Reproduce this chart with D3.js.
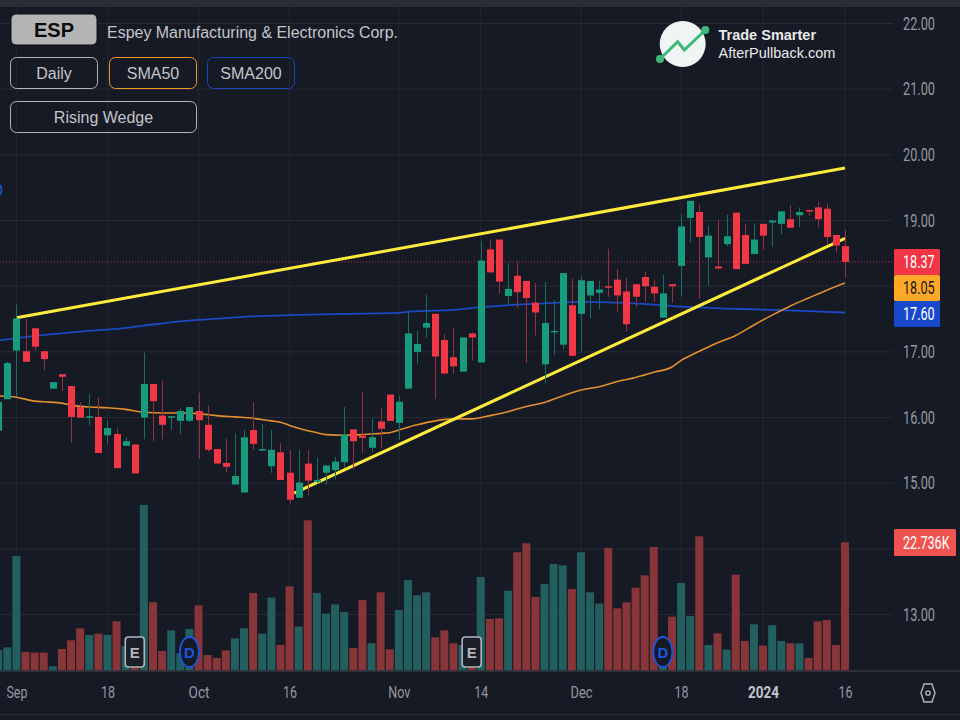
<!DOCTYPE html>
<html>
<head>
<meta charset="utf-8">
<title>ESP</title>
<script src="https://cdn.jsdelivr.net/npm/d3@7"></script>
<style>
	html, body { margin: 0; padding: 0; background: #161a25; }
	svg { display: block; }
</style>
</head>
<body>
<div id="chart"></div>
<script>
// trading day number of every candle, Sep 1 2023 is day 0
let firstDay = -2;

let opens = [
	15.80, 16.28,
	17.02, 17.01, 17.36, 17.01, 16.44, 16.66, 16.48, 16.16, 16.00, 16.01,
	15.73, 15.75, 15.57, 15.59, 16.00, 16.51, 16.03, 16.00, 15.95, 15.95,
	16.10, 15.89, 15.52, 15.31, 14.98, 14.86, 15.81, 15.50, 15.26, 15.47,
	15.16, 14.78, 15.30, 15.02, 15.16, 15.20, 15.32, 15.82, 15.72, 15.54,
	15.94, 16.35, 15.92, 16.44, 17.00, 17.37, 17.58, 17.18, 16.92, 16.70,
	17.28, 16.84, 18.56, 18.71, 17.85, 18.16, 18.08, 17.75, 16.81, 17.30,
	17.11, 17.71, 17.58, 17.86, 17.90, 18.00, 18.10, 17.92, 18.03, 18.14,
	17.99, 17.52, 18.03, 18.31, 19.04, 19.13, 18.44, 18.30, 18.64, 19.12,
	18.78, 18.49, 18.95, 18.97, 18.95, 19.02, 19.08, 19.16, 19.20, 19.18,
	18.78, 18.61
];
let highs = [
	16.24, 16.85,
	17.72, 17.50, 17.36, 17.01, 16.54, 16.66, 16.48, 16.23, 16.36, 16.31,
	15.96, 15.84, 15.70, 15.59, 16.99, 16.51, 16.56, 16.02, 16.14, 16.16,
	16.38, 16.18, 15.52, 15.68, 15.76, 15.81, 16.23, 15.90, 15.81, 15.61,
	15.50, 15.51, 15.50, 15.39, 15.27, 15.40, 16.16, 15.82, 16.39, 15.99,
	16.15, 16.35, 16.33, 17.61, 17.32, 17.87, 17.58, 17.27, 17.37, 17.22,
	17.30, 18.69, 18.71, 18.71, 18.35, 18.38, 18.08, 18.05, 18.06, 17.79,
	18.20, 18.12, 18.15, 18.08, 18.08, 18.57, 18.26, 18.13, 18.03, 18.22,
	18.09, 18.17, 18.03, 19.09, 19.30, 19.24, 18.92, 19.01, 19.09, 19.12,
	18.95, 18.96, 18.95, 19.00, 19.14, 19.23, 19.20, 19.16, 19.28, 19.26,
	18.78, 18.86
];
let lows = [
	15.80, 16.28,
	16.33, 16.85, 17.01, 16.72, 16.44, 16.40, 15.62, 16.00, 15.88, 15.46,
	15.60, 15.23, 15.57, 15.15, 15.67, 15.64, 15.67, 15.81, 15.75, 15.93,
	15.37, 15.48, 15.30, 15.16, 14.98, 14.86, 15.51, 15.50, 15.16, 15.05,
	14.69, 14.78, 14.81, 15.00, 14.98, 15.06, 15.24, 15.21, 15.46, 15.47,
	15.53, 15.95, 15.66, 16.44, 16.82, 17.22, 16.28, 16.67, 16.67, 16.70,
	16.87, 16.84, 18.21, 17.89, 17.71, 17.67, 16.83, 17.25, 16.52, 16.95,
	17.04, 16.94, 17.01, 17.51, 17.65, 17.84, 17.61, 17.31, 17.68, 17.76,
	17.76, 17.52, 17.75, 17.84, 18.66, 17.81, 18.01, 18.27, 18.61, 18.26,
	18.34, 18.49, 18.56, 18.60, 18.79, 18.89, 18.90, 19.07, 18.90, 18.64,
	18.51, 18.13
];
let closes = [
	16.24, 16.83,
	17.51, 16.85, 17.08, 16.89, 16.54, 16.62, 16.01, 16.00, 16.02, 15.46,
	15.84, 15.23, 15.64, 15.15, 16.51, 16.25, 15.89, 16.02, 16.10, 16.16,
	15.96, 15.51, 15.30, 15.25, 15.11, 15.70, 15.60, 15.52, 15.51, 15.05,
	14.75, 15.01, 15.04, 15.05, 15.27, 15.33, 15.74, 15.64, 15.69, 15.70,
	15.83, 15.95, 16.24, 17.28, 17.12, 17.44, 16.93, 16.67, 16.78, 17.22,
	17.22, 18.39, 18.21, 18.07, 17.96, 17.91, 17.82, 17.60, 17.44, 17.32,
	18.20, 16.94, 18.09, 18.08, 17.95, 17.98, 17.86, 17.42, 17.84, 18.00,
	17.89, 17.89, 18.00, 18.91, 19.30, 18.75, 18.77, 18.27, 18.76, 18.26,
	18.34, 18.71, 18.77, 19.00, 19.14, 18.89, 19.13, 19.14, 19.02, 18.75,
	18.62, 18.37
];
// thousands of shares, the ones under the E and D badges are estimates
let volumes = [
	3.61, 4.08,
	20.31, 3.26, 3.14, 3.14, 0.71, 3.79, 5.33, 7.46, 6.28, 6.51,
	6.28, 8.70, 4.32, 3.50, 29.36, 12.08, 3.43, 7.10, 3.02, 7.34,
	11.54, 2.72, 2.19, 3.55, 5.68, 7.46, 13.73, 6.51, 12.91, 4.50,
	14.92, 7.76, 26.64, 13.73, 10.06, 11.72, 10.36, 3.97, 12.49, 4.80,
	13.85, 3.73, 10.72, 16.04, 13.32, 13.85, 5.86, 7.10, 4.80, 4.50,
	3.50, 16.58, 9.12, 9.24, 14.15, 20.96, 22.56, 13.02, 15.33, 18.88,
	18.65, 14.44, 20.96, 13.85, 11.84, 21.73, 11.01, 12.08, 14.68, 16.87,
	21.90, 3.50, 9.53, 15.51, 9.65, 23.80, 4.50, 6.57, 3.67, 16.99,
	5.21, 8.17, 4.38, 7.99, 5.21, 4.80, 4.80, 2.19, 8.70, 8.94,
	4.50, 22.736
];

let sma50Days = [-2, 0, 2, 3, 5, 6, 8, 10, 12, 14, 16, 18, 20, 22, 24, 26, 28, 29, 30, 32, 33, 34, 36, 38, 40, 41, 42, 44, 46, 48, 50, 52, 54, 56, 58, 60, 62, 64, 66, 68, 70, 72, 73, 75, 77, 79, 81, 83, 85, 87, 89, 91];
let sma50 = [16.33, 16.31, 16.25, 16.24, 16.22, 16.19, 16.16, 16.15, 16.125, 16.08, 16.07, 16.07, 16.06, 16.03, 16.01, 15.99, 15.95, 15.93, 15.88, 15.80, 15.77, 15.74, 15.73, 15.74, 15.76, 15.77, 15.81, 15.89, 15.95, 15.98, 15.98, 16.03, 16.09, 16.17, 16.23, 16.33, 16.42, 16.47, 16.55, 16.61, 16.69, 16.77, 16.87, 17.01, 17.14, 17.25, 17.41, 17.56, 17.70, 17.82, 17.94, 18.05];

let sma200Days = [-2, 0, 4, 7, 11, 14, 18, 22, 26, 30, 36, 41, 44, 48, 51, 55, 58, 62, 66, 70, 73, 78, 83, 87, 91];
let sma200 = [17.17, 17.21, 17.27, 17.31, 17.35, 17.40, 17.465, 17.505, 17.54, 17.56, 17.58, 17.59, 17.62, 17.64, 17.68, 17.72, 17.74, 17.76, 17.75, 17.72, 17.69, 17.66, 17.64, 17.62, 17.60];

let wedgeUpperDays = [0, 91];
let wedgeUpper = [17.52, 19.80];
let wedgeLowerDays = [30.5, 91];
let wedgeLower = [14.85, 18.73];

let tickDays = [0, 10, 20, 30, 42, 51, 62, 73, 82, 91];
let tickLabels = ["Sep", "18", "Oct", "16", "Nov", "14", "Dec", "18", "2024", "16"];
let tickWidths = [21, 14, 21, 14, 22, 14, 22, 14, 31, 14];
let priceGrid = [22, 21, 20, 19, 18, 17, 16, 15, 14, 13];
let priceLabels = [22, 21, 20, 19, 17, 16, 15, 13];

let earningsDays = [13, 50];
let dividendDays = [19, 71];

let lastPrice = 18.37;
let lastSma50 = 18.05;
let lastSma200 = 17.60;
let lastVolume = 22.736;

let width = 960;
let height = 720;
let plotRight = 893;

let upColor = "#189c7e";
let downColor = "#f23747";
let upWick = "#14715f";
let downWick = "#96303f";
let upVolume = "#225f5e";
let downVolume = "#873539";

let svg = d3.select("#chart")
	.append("svg")
	.attr("width", width)
	.attr("height", height)
	.style("font-family", "'Liberation Sans', Arial, sans-serif");

svg.append("rect")
	.attr("width", width)
	.attr("height", height)
	.attr("fill", "#161a25");

let xScale = d3.scaleLinear()
	.domain([0, 91])
	.range([16.4, 845]);

let yScale = d3.scaleLinear()
	.domain([13, 22])
	.range([614.6, 23.5]);

let volScale = d3.scaleLinear()
	.domain([0, lastVolume])
	.range([670.3, 542.3]);

// one row per candle for the joins
let candles = opens.map((o, i) => ({
	day: firstDay + i,
	open: o,
	high: highs[i],
	low: lows[i],
	close: closes[i],
	volume: volumes[i],
	up: closes[i] >= o
}));

// frame bands
svg.append("rect").attr("width", width).attr("height", 7).attr("fill", "#2a2e39");
svg.append("rect").attr("y", 670).attr("width", width).attr("height", 2).attr("fill", "#2a2e39");
svg.append("rect").attr("y", 714).attr("width", width).attr("height", 1).attr("fill", "#2a2e39");

// grid
svg.append("g").selectAll("line")
	.data(tickDays)
	.enter()
	.append("line")
	.attr("x1", d => xScale(d))
	.attr("x2", d => xScale(d))
	.attr("y1", 7)
	.attr("y2", 670)
	.attr("stroke", "#232732")
	.attr("stroke-width", 1);

svg.append("g").selectAll("line")
	.data(priceGrid)
	.enter()
	.append("line")
	.attr("x1", 0)
	.attr("x2", plotRight)
	.attr("y1", d => yScale(d))
	.attr("y2", d => yScale(d))
	.attr("stroke", "#272b36")
	.attr("stroke-width", 1);

// volume
svg.append("g").selectAll("rect")
	.data(candles)
	.enter()
	.append("rect")
	.attr("x", d => xScale(d.day) - 4)
	.attr("y", d => volScale(d.volume))
	.attr("width", 8)
	.attr("height", d => volScale(0) - volScale(d.volume))
	.attr("fill", d => d.up ? upVolume : downVolume);

// last price line
svg.append("line")
	.attr("x1", 0)
	.attr("x2", plotRight)
	.attr("y1", yScale(lastPrice))
	.attr("y2", yScale(lastPrice))
	.attr("stroke", "#f23645")
	.attr("stroke-opacity", 0.75)
	.attr("stroke-dasharray", "1 2");

let line = d3.line()
	.x(d => xScale(d[0]))
	.y(d => yScale(d[1]));

let smoothLine = d3.line()
	.curve(d3.curveMonotoneX)
	.x(d => xScale(d[0]))
	.y(d => yScale(d[1]));

svg.append("path")
	.attr("d", smoothLine(d3.zip(sma200Days, sma200)))
	.attr("fill", "none")
	.attr("stroke", "#1b49c4")
	.attr("stroke-width", 1.8);

svg.append("path")
	.attr("d", smoothLine(d3.zip(sma50Days, sma50)))
	.attr("fill", "none")
	.attr("stroke", "#e28f2c")
	.attr("stroke-width", 1.6);

[d3.zip(wedgeUpperDays, wedgeUpper), d3.zip(wedgeLowerDays, wedgeLower)].forEach(pts => {
	svg.append("path")
		.attr("d", line(pts))
		.attr("fill", "none")
		.attr("stroke", "#ffeb3b")
		.attr("stroke-width", 3);
});

// candles sit on top of the lines
svg.append("g").selectAll("line")
	.data(candles)
	.enter()
	.append("line")
	.attr("x1", d => Math.round(xScale(d.day)) + 0.5)
	.attr("x2", d => Math.round(xScale(d.day)) + 0.5)
	.attr("y1", d => yScale(d.high))
	.attr("y2", d => yScale(d.low))
	.attr("stroke", d => d.up ? upWick : downWick)
	.attr("stroke-width", 1);

svg.append("g").selectAll("rect")
	.data(candles)
	.enter()
	.append("rect")
	.attr("x", d => Math.round(xScale(d.day)) - 3)
	.attr("y", d => yScale(Math.max(d.open, d.close)))
	.attr("width", 7)
	.attr("height", d => Math.max(1.5, Math.abs(yScale(d.open) - yScale(d.close))))
	.attr("fill", d => d.up ? upColor : downColor);

// E and D badges
let badgeY = 652;

let eBadge = svg.append("g").selectAll("g")
	.data(earningsDays)
	.enter()
	.append("g")
	.attr("transform", d => "translate(" + xScale(d) + "," + badgeY + ")");

eBadge.append("rect")
	.attr("x", -9.5)
	.attr("y", -15)
	.attr("width", 19)
	.attr("height", 30)
	.attr("rx", 3)
	.attr("fill", "#1a1e29")
	.attr("stroke", "#b2b5be")
	.attr("stroke-width", 1.6);

eBadge.append("text")
	.attr("text-anchor", "middle")
	.attr("y", 5.5)
	.attr("font-size", 15)
	.attr("font-weight", "bold")
	.attr("fill", "#b2b5be")
	.text("E");

let dBadge = svg.append("g").selectAll("g")
	.data(dividendDays)
	.enter()
	.append("g")
	.attr("transform", d => "translate(" + xScale(d) + "," + badgeY + ")");

dBadge.append("ellipse")
	.attr("rx", 9.5)
	.attr("ry", 15)
	.attr("fill", "#161a25")
	.attr("stroke", "#1c55df")
	.attr("stroke-width", 1.8);

dBadge.append("text")
	.attr("text-anchor", "middle")
	.attr("y", 5.5)
	.attr("font-size", 15)
	.attr("font-weight", "bold")
	.attr("fill", "#1c55df")
	.text("D");

// piece of an older badge at the left edge
svg.append("ellipse")
	.attr("cx", -8)
	.attr("cy", 190)
	.attr("rx", 9.5)
	.attr("ry", 9)
	.attr("fill", "none")
	.attr("stroke", "#1c55df")
	.attr("stroke-width", 1.6);

// price axis
let priceAxis = d3.axisRight(yScale)
	.tickValues(priceLabels)
	.tickFormat(d3.format(".2f"))
	.tickSize(0)
	.tickPadding(0);

let priceG = svg.append("g")
	.attr("transform", "translate(903,0)")
	.call(priceAxis);
priceG.select(".domain").remove();
priceG.selectAll("text")
	.attr("font-family", "Roboto")
	.attr("font-size", 17.5)
	.attr("fill", "#9598a1")
	.attr("textLength", 32)
	.attr("lengthAdjust", "spacingAndGlyphs");

// time axis
let timeAxis = d3.axisBottom(xScale)
	.tickValues(tickDays)
	.tickFormat((d, i) => tickLabels[i])
	.tickSize(0)
	.tickPadding(0);

let timeG = svg.append("g")
	.attr("transform", "translate(0,686)")
	.call(timeAxis);
timeG.select(".domain").remove();
timeG.selectAll("text")
	.attr("font-family", "Roboto")
	.attr("font-size", 17)
	.attr("fill", d => d == 82 ? "#c3c5cc" : "#9598a1")
	.attr("font-weight", d => d == 82 ? "bold" : "normal")
	.attr("textLength", (d, i) => tickWidths[i])
	.attr("lengthAdjust", "spacingAndGlyphs");

// value tags on the price axis
function priceTag(top, bg, fg, txt, w, h) {
	svg.append("rect")
		.attr("x", 894)
		.attr("y", top)
		.attr("width", w)
		.attr("height", h)
		.attr("rx", 1.5)
		.attr("fill", bg);
	svg.append("text")
		.attr("transform", "translate(903," + (top + h / 2 + 6) + ") scale(0.72,1)")
		.attr("font-family", "Roboto")
		.attr("font-size", 17.5)
		.attr("fill", fg)
		.text(txt);
}
priceTag(249, "#f23645", "#ffffff", lastPrice.toFixed(2), 46, 26);
priceTag(275, "#ffa726", "#131722", lastSma50.toFixed(2), 46, 26);
priceTag(301, "#1848cc", "#ffffff", lastSma200.toFixed(2), 46, 26);
priceTag(529, "#ef5350", "#ffffff", lastVolume.toFixed(3) + "K", 62, 27);

// settings icon
let hexPoints = [[921, 693], [924, 684], [932, 684], [935, 693], [932, 702], [924, 702]];
svg.append("path")
	.attr("d", d3.line()(hexPoints) + "Z")
	.attr("fill", "none")
	.attr("stroke", "#b2b5be")
	.attr("stroke-width", 1.4);
svg.append("circle")
	.attr("cx", 928)
	.attr("cy", 693)
	.attr("r", 2.2)
	.attr("fill", "none")
	.attr("stroke", "#b2b5be")
	.attr("stroke-width", 1.3);

// header buttons
svg.append("rect")
	.attr("x", 11)
	.attr("y", 14)
	.attr("width", 86)
	.attr("height", 31)
	.attr("rx", 5)
	.attr("fill", "#b4b4b4")
	.attr("stroke", "#0e1017")
	.attr("stroke-width", 1);
svg.append("text")
	.attr("x", 54)
	.attr("y", 36.5)
	.attr("text-anchor", "middle")
	.attr("font-size", 20)
	.attr("font-weight", "bold")
	.attr("fill", "#0b0b0b")
	.text("ESP");
svg.append("text")
	.attr("x", 107)
	.attr("y", 38)
	.attr("font-size", 16)
	.attr("fill", "#c4c5c9")
	.attr("textLength", 291)
	.attr("lengthAdjust", "spacingAndGlyphs")
	.text("Espey Manufacturing & Electronics Corp.");

let buttonLabels = ["Daily", "SMA50", "SMA200", "Rising Wedge"];
let buttonX = [10.5, 109.5, 207.5, 10.5];
let buttonY = [57.5, 57.5, 57.5, 101.5];
let buttonW = [87, 87, 87, 186];
let buttonStroke = ["#b2b5be", "#f09a25", "#1a45b8", "#b2b5be"];

let buttons = svg.append("g").selectAll("g")
	.data(buttonLabels)
	.enter()
	.append("g");

buttons.append("rect")
	.attr("x", (d, i) => buttonX[i])
	.attr("y", (d, i) => buttonY[i])
	.attr("width", (d, i) => buttonW[i])
	.attr("height", 31)
	.attr("rx", 6)
	.attr("fill", "none")
	.attr("stroke", (d, i) => buttonStroke[i]);

buttons.append("text")
	.attr("x", (d, i) => buttonX[i] + buttonW[i] / 2)
	.attr("y", (d, i) => buttonY[i] + 21)
	.attr("text-anchor", "middle")
	.attr("font-size", 16)
	.attr("fill", "#c4c5c9")
	.text(d => d);

// logo
svg.append("circle")
	.attr("cx", 682.7)
	.attr("cy", 44)
	.attr("r", 23)
	.attr("fill", "#f0f4f5");

let logoPoints = [[660, 59], [677.7, 41.7], [684.3, 50], [705.3, 30]];
svg.append("path")
	.attr("d", d3.line()(logoPoints))
	.attr("fill", "none")
	.attr("stroke", "#3dba7a")
	.attr("stroke-width", 3);
svg.append("circle").attr("cx", 660).attr("cy", 59).attr("r", 4).attr("fill", "#3dba7a");
svg.append("circle").attr("cx", 705.3).attr("cy", 30).attr("r", 4).attr("fill", "#3dba7a");

svg.append("text")
	.attr("x", 718.5)
	.attr("y", 40)
	.attr("font-size", 14.5)
	.attr("font-weight", "bold")
	.attr("fill", "#e8e9eb")
	.text("Trade Smarter");
svg.append("text")
	.attr("x", 718.5)
	.attr("y", 58)
	.attr("font-size", 14.5)
	.attr("fill", "#e8e9eb")
	.text("AfterPullback.com");
</script>
</body>
</html>
